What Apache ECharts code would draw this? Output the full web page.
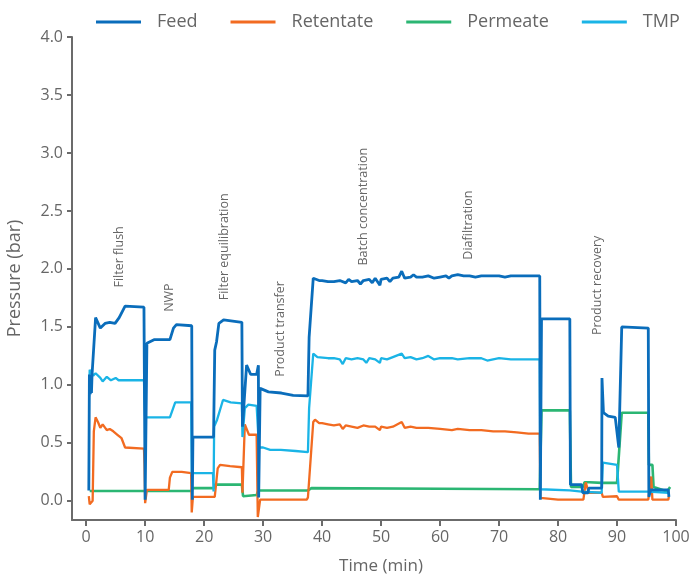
<!DOCTYPE html>
<html>
<head>
<meta charset="utf-8">
<script src="https://cdn.jsdelivr.net/npm/echarts@6/dist/echarts.min.js"></script>
<style>html,body{margin:0;padding:0;background:#fff;}#c{width:693px;height:577px;}</style>
</head>
<body>
<div id="c"></div>
<script>
// ---- data: [time (min), pressure (bar)] ----
var feed = [
[0.45,0.09],[0.55,1.09],[0.7,0.92],[0.8,1.09],[0.9,0.93],[1.0,1.09],[1.6,1.58],[2.4,1.49],[3.2,1.53],[4.0,1.54],[4.9,1.53],[5.6,1.58],[6.6,1.68],[9.8,1.67],
[10.0,0.01],[10.3,1.36],[11.5,1.39],[14.2,1.39],[14.8,1.49],[15.3,1.52],[17.9,1.51],[18.0,0.01],[18.1,0.55],[21.6,0.55],[21.8,1.30],[22.1,1.37],[22.5,1.53],[23.3,1.56],[26.4,1.54],
[26.5,0.64],[27.2,1.17],[27.9,1.09],[28.9,1.09],[29.2,1.17],[29.25,0.03],[29.5,0.97],[30.9,0.94],[33.1,0.93],[35.1,0.91],[37.6,0.905],[37.8,1.41],[38.5,1.92],
[39.5,1.90],[40,1.90],[41,1.89],[42,1.89],[43,1.90],[44,1.88],[44.5,1.91],[45,1.89],[46,1.90],[46.5,1.87],[47,1.90],[48,1.91],[48.5,1.88],[49,1.92],[49.8,1.86],[50,1.91],
[51,1.92],[51.5,1.89],[52,1.92],[53,1.93],[53.5,1.98],[54,1.92],[55,1.93],[55.5,1.95],[56,1.93],[57,1.93],[58,1.94],[59,1.92],[60,1.93],[61,1.94],[61.5,1.92],[62,1.94],
[63,1.95],[64,1.94],[65,1.94],[66,1.93],[67,1.94],[68,1.94],[69,1.94],[70,1.94],[71,1.93],[72,1.94],[73,1.94],[74,1.94],[75,1.94],[76.9,1.94],
[77.0,0.01],[77.2,1.57],[82.0,1.57],[82.1,0.14],[84.0,0.14],[84.2,0.07],[85.1,0.07],[85.2,0.11],[87.4,0.11],[87.45,1.06],[87.7,0.76],[88.5,0.73],[89.7,0.72],[90.0,0.72],
[90.3,0.46],[90.8,1.50],[95.3,1.49],[95.4,0.035],[95.7,0.095],[98.7,0.095],[98.8,0.035]
];
var retentate = [
[0.45,0.04],[0.6,-0.03],[1.1,0.0],[1.3,0.6],[1.6,0.72],[2.0,0.68],[2.4,0.63],[2.8,0.66],[3.5,0.61],[4.0,0.62],[4.6,0.60],[5.3,0.57],[6.0,0.54],[6.6,0.46],[9.8,0.45],
[9.9,0.31],[10.0,-0.02],[10.3,0.095],[14.0,0.095],[14.2,0.2],[14.6,0.25],[16.2,0.25],[17.8,0.24],[17.9,-0.1],[18.1,0.035],[21.8,0.035],[22.3,0.28],[22.7,0.31],[24.4,0.30],[26.4,0.29],
[26.5,0.07],[26.9,0.66],[27.6,0.57],[28.9,0.57],[29.1,-0.14],[29.5,0.01],[37.4,0.01],[37.6,0.03],[38.5,0.68],[38.8,0.70],[39.5,0.67],
[40,0.67],[41,0.66],[42,0.65],[43,0.66],[43.5,0.62],[44,0.65],[45,0.64],[46,0.63],[47,0.65],[48,0.64],[49,0.64],[49.8,0.61],[50,0.64],[51,0.63],[52,0.64],[53.5,0.68],[54,0.63],
[55,0.64],[56,0.63],[58,0.63],[60,0.62],[62,0.61],[63,0.62],[65,0.61],[67,0.61],[69,0.60],[71,0.60],[73,0.59],[75,0.58],[76.9,0.58],
[77.0,0.025],[80,0.01],[82,0.01],[84.3,0.01],[84.7,0.16],[85.0,0.16],[85.2,0.07],[87.4,0.07],[87.6,0.035],[90.0,0.04],[90.3,0.01],[95.3,0.01],[95.8,0.21],[96.0,0.01],[98.7,0.01],[98.8,0.04]
];
var permeate = [
[0.6,0.085],[10.0,0.085],[17.9,0.085],[18.0,0.11],[21.7,0.11],[21.8,0.14],[26.4,0.14],[26.6,0.04],[28.9,0.05],[29.2,0.09],[37.6,0.09],[38.2,0.11],[60,0.105],[76.9,0.10],
[77.2,0.78],[82.0,0.78],[82.2,0.12],[84.2,0.12],[84.5,0.16],[85.3,0.16],[85.6,0.15],[87.4,0.155],[90.0,0.155],[90.8,0.76],[95.3,0.76],[95.4,0.31],[96.0,0.31],[96.2,0.12],[98.5,0.08],[99.0,0.12]
];
var tmp = [
[0.5,0.9],[0.6,1.13],[0.8,1.13],[1.2,1.08],[1.6,1.10],[2.4,1.06],[2.8,1.03],[3.5,1.07],[4.2,1.04],[5.0,1.06],[5.5,1.04],[9.8,1.04],[10.0,0.72],[14.2,0.72],[15.1,0.85],[17.8,0.85],
[17.9,0.24],[21.5,0.24],[21.6,0.08],[21.7,0.64],[22.2,0.70],[23.2,0.87],[24.5,0.85],[26.4,0.84],[26.5,0.55],[26.9,0.80],[27.5,0.83],[28.9,0.82],[29.2,0.81],[29.3,0.46],
[30,0.46],[31.2,0.44],[33,0.44],[35.5,0.43],[37.6,0.42],[37.8,0.8],[38.5,1.27],[39.2,1.24],
[41,1.23],[42,1.23],[43,1.22],[43.5,1.18],[44,1.23],[45,1.22],[46,1.23],[47,1.22],[47.5,1.19],[48,1.23],[49,1.22],[49.8,1.19],[50,1.23],[51,1.22],[52,1.24],[53.5,1.27],[54,1.23],
[55,1.24],[56,1.22],[57,1.23],[58,1.25],[59,1.22],[60,1.23],[62,1.23],[63,1.22],[65,1.23],[67,1.23],[68,1.21],[70,1.23],[72,1.22],[74,1.22],[76.9,1.22],
[77.0,0.1],[77.2,0.09],[82.0,0.09],[84.0,0.08],[84.2,0.07],[87.4,0.07],[87.6,0.33],[90.0,0.31],[90.3,0.08],[95.3,0.08],[95.5,0.07],[98.7,0.07]
];
var phaseNames = ["Filter flush","NWP","Filter equilibration","Product transfer","Batch concentration","Diafiltration","Product recovery"];
var phaseTime = [5.6, 14.2, 23.4, 32.9, 47.0, 64.8, 86.6];
var phaseLevel = [1.84, 1.63, 1.73, 1.07, 2.03, 2.08, 1.43];
var xTicks = [0,10,20,30,40,50,60,70,80,90,100];
var yTicks = [0,0.5,1,1.5,2,2.5,3,3.5,4];

var FONT = "Open Sans";
var GREY = "#666";
var chart = echarts.init(document.getElementById('c'), null, {renderer:'canvas'});
function mk(name, data, color, width, z){
  return {name:name, type:'line', data:data, showSymbol:false, symbol:'none', z:z,
    lineStyle:{color:color, width:width}, itemStyle:{color:color}, animation:false, clip:false};
}
chart.setOption({
  animation:false,
  grid:{left:72, right:17, top:37, bottom:57, outerBoundsMode:'none', containLabel:false},
  legend:{top:8, left:91, itemWidth:45, itemHeight:3, itemGap:33, icon:'rect',
    textStyle:{fontFamily:FONT, fontSize:18, color:GREY, padding:[0,0,0,11]},
    data:['Feed','Retentate','Permeate','TMP']},
  xAxis:{type:'value', min:-2.4, max:100,
    name:'Time (min)', nameLocation:'middle', nameGap:38,
    nameTextStyle:{fontFamily:FONT, fontSize:17, color:GREY, padding:[0,0,0,14]},
    axisLine:{show:true, onZero:false, lineStyle:{color:'#6b6b6b', width:2}},
    axisTick:{show:true, length:6, lineStyle:{color:'#6b6b6b', width:2}, customValues:xTicks},
    axisLabel:{fontFamily:FONT, fontSize:16, color:GREY, margin:9, customValues:xTicks},
    splitLine:{show:false}},
  yAxis:{type:'value', min:-0.165, max:4,
    name:'Pressure (bar)', nameLocation:'middle', nameGap:48,
    nameTextStyle:{fontFamily:FONT, fontSize:18, color:GREY},
    axisLine:{show:true, onZero:false, lineStyle:{color:'#6b6b6b', width:2}},
    axisTick:{show:true, length:5, lineStyle:{color:'#6b6b6b', width:2}, customValues:yTicks},
    axisLabel:{fontFamily:FONT, fontSize:16, color:GREY, margin:9, customValues:yTicks,
      formatter:function(v){return v.toFixed(1);}},
    splitLine:{show:false}},
  series:[
    mk('Feed', feed, '#0a6dbb', 2.8, 5),
    mk('Retentate', retentate, '#f26b21', 2.3, 3),
    mk('Permeate', permeate, '#2bb673', 2.6, 2),
    mk('TMP', tmp, '#1ab4e6', 2.3, 4)
  ]
});
var g = [];
for (var i=0;i<phaseNames.length;i++){
  var p = chart.convertToPixel({gridIndex:0},[phaseTime[i], phaseLevel[i]]);
  g.push({type:'text', x:p[0], y:p[1], rotation:Math.PI/2, z:10,
    style:{text:phaseNames[i], fill:GREY, font:'12.5px "'+FONT+'"', align:'left', verticalAlign:'middle'}});
}
chart.setOption({graphic:g});
</script>
</body>
</html>
